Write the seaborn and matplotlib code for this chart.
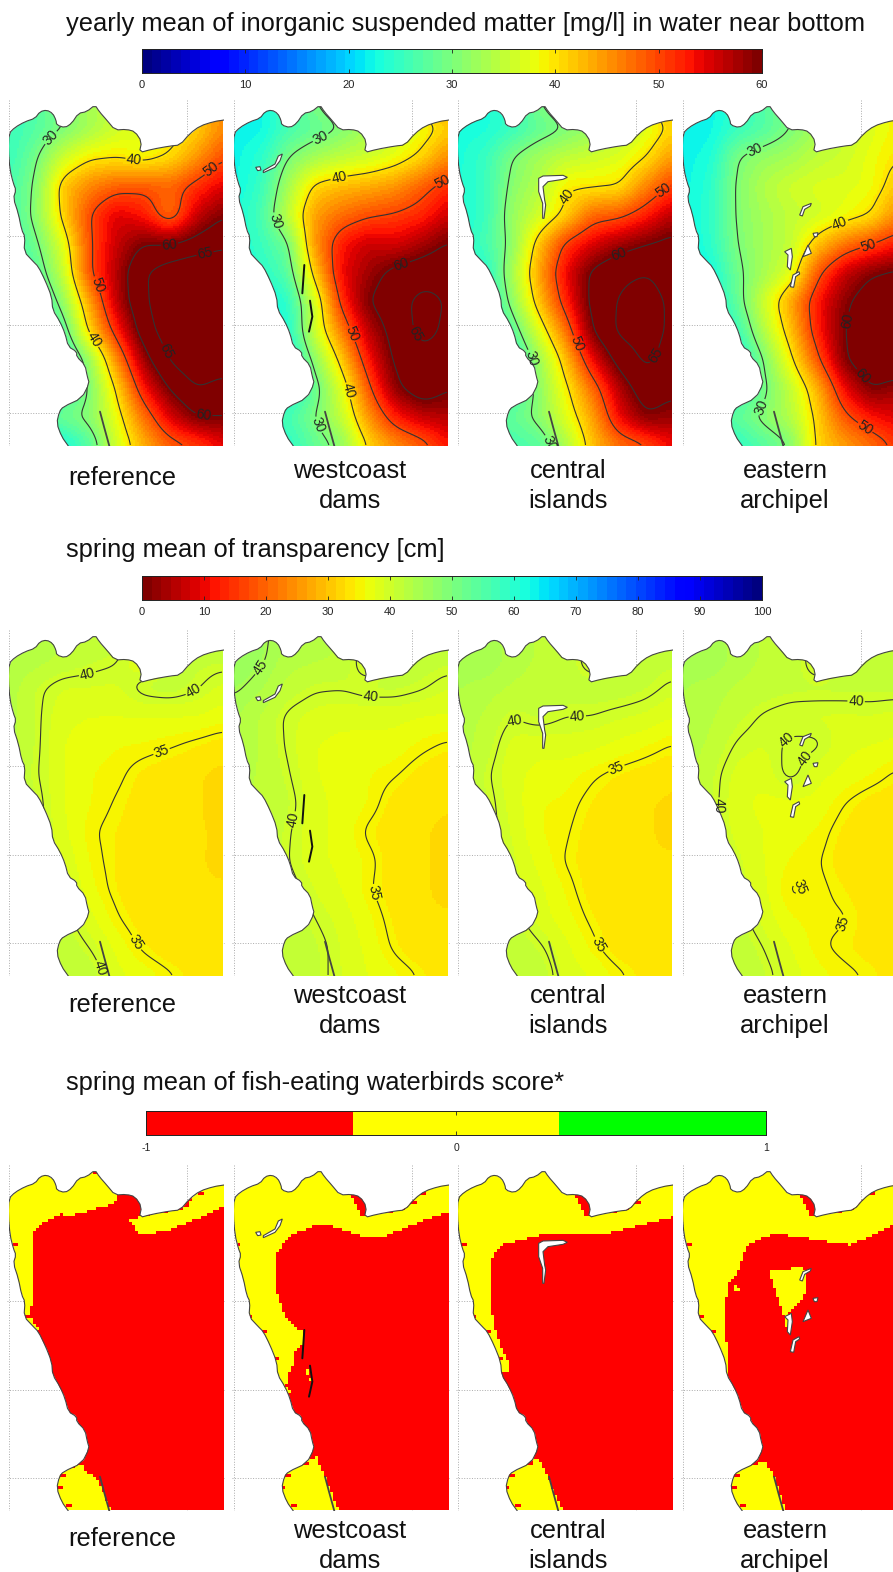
import numpy as np
import matplotlib
matplotlib.use("Agg")
import matplotlib.pyplot as plt
from matplotlib.colors import ListedColormap
from matplotlib.patches import Polygon
from matplotlib.path import Path
import seaborn as sns

sns.set_theme(style="white")
plt.rcParams['font.family'] = ['Liberation Sans', 'DejaVu Sans']

W, H = 893, 1572
titles = ["yearly mean of inorganic suspended matter [mg/l] in water near bottom",
          "spring mean of transparency [cm]",
          "spring mean of fish-eating waterbirds score*"]
scenarios = ["reference", "westcoast\ndams", "central\nislands", "eastern\narchipel"]
ism_ticks = [0, 10, 20, 30, 40, 50, 60]
trans_ticks = [0, 10, 20, 30, 40, 50, 60, 70, 80, 90, 100]
score_ticks = [-1, 0, 1]
ism_levels = [30, 40, 50, 60, 65]
trans_levels = [35, 40, 45]

# coastline, west side going north then east
coast_x = [205,185,170,178,190,245,268,262,255,230,230,205,195,180,158,155,135,115,100,72,75,65,55,40,48,40,30,25,27,45,75,105,120,140,158,168,170,195,215,235,260,285,298,320,345,380,405,425,418,455,510,540,570,600,640,672]
coast_y = [1068,1040,1000,965,950,925,880,860,825,800,785,770,730,695,660,620,570,530,515,485,440,420,370,325,300,280,240,180,130,112,95,85,65,60,70,90,105,113,100,70,65,45,65,90,120,118,125,155,188,178,168,165,130,108,95,90]

# field nodes: 9 columns x 13 rows
ism_reference = [
 [26,27,30,33,36,38,40,44,46],
 [25,27,30,33,36,37,38,41,46],
 [25,29.5,36,39.5,39.8,38.5,40.5,45,50],
 [26,30.5,42,46,48.5,49,48,51.5,55],
 [26,31,41,50,55,53,47,56,60],
 [25,29,37,49.5,56,60,60,62,64],
 [25,27,35,49.5,57,64.5,68,70,70],
 [25,24,31.5,44,56.5,64,69,71,71],
 [25,22,27,41,52,62.5,68,71,71],
 [24,22,23,32,45.5,58,65.5,69,68],
 [24,23,25,30,40.5,53,60.5,65,63],
 [27,27,29,31,38,47,55,60,60],
 [22,22,22,27,36,43,48,50,54]]
ism_westcoast = [
 [22,22,26,30,33,35,38,42,45],
 [22,22,26,28,30,33,35,38,41.5],
 [22,24,30,33,35,36,38,41,46],
 [22,25,33,41,42.5,43.5,45,48.5,52],
 [23,26,35,44.5,47.5,49.5,50.5,52,56],
 [23,25,29,45,53,56,55,57.5,60.5],
 [23,24,27,41.5,54,58,61.5,63,64],
 [22,22,24,36,51.5,60,63,66.5,64.5],
 [22,22,23,36,46.5,56.5,62,66.5,64],
 [22,22,22,31,41.5,53,61,63.5,63],
 [22,22,22,28,37,49,59,63,60],
 [24,24,26,30,35,45,52.5,56,57],
 [24,24,24,28,31,40.5,45,48,53]]
ism_central = [
 [23,23,25,30,33,36,38,40,44],
 [23,23,25,28,30,32,34,37,41],
 [23,25,30,33,35,36,37,40,45],
 [23,25,31,34,39.5,39.5,40,46,51],
 [23,25,32,36,41,48,49,52.5,57],
 [23,26,31,42,51,55,58,60,61.5],
 [23,23,33,44,54,61,64,65,63],
 [23,23,31,42,52,61.5,65.5,67,64],
 [23,23,27,37,47,60,66,67,64],
 [23,23,23,32,42,54,62,66,63],
 [24,24,25,31,39,47.5,57,63,61],
 [26,26,28,31,37,44,54,59.5,58],
 [26,26,26,27,33,42,47,49,54]]
ism_eastern = [
 [22,22,24,27,30,33,36,38,40],
 [22,22,25,27,30,33,35,37,39],
 [22,23,30,32,33,35,36,38,40],
 [22,24,30.5,34,36,37,37,38,42],
 [22,24,30.5,33,35,36,38,40,46],
 [22,24,30,33,35,42,47,50,53],
 [22,22,29,33,37,49,56,59.5,61],
 [22,22,28,36,44,53,59,63,64],
 [22,22,25,34,42,52.5,60,64,65],
 [22,22,22,30,39,49,59.5,64,64],
 [22,22,24,29,35,43,54,60,58],
 [26,26,28,31,34,41,49,53,55],
 [24,24,24,27,30,41,44,47,51]]
trans_reference = [
 [44,43,42,42,42,41,41,41,41],
 [44,43,42,41,40.3,37,41,41,41],
 [43,40.5,39,39,38.8,41,41.5,40.3,38.5],
 [43,40.5,38,37.5,37.5,37.5,37.5,37.5,36.5],
 [43,40.5,37.5,36.5,36,35.8,35.2,34.3,33.5],
 [42,40.3,37.5,36,35.5,34,33.3,33,32.3],
 [42,41,37.5,36,34.8,33.6,33.3,33,32],
 [41,41,38,35.3,34.3,33.6,33.3,33,32.5],
 [41,41,39,35.8,34.2,33,32.9,32.9,32.6],
 [41,41,40,36.5,34.3,33,32.9,32.9,32.9],
 [41,41,41,38,35.2,33.4,32.9,32.9,32.9],
 [42,42,42,40,37,34.5,33,32.9,32.9],
 [42,42,42,42,38,37,35.4,33.8,33]]
trans_westcoast = [
 [47,46,43,43,42,42,42,42,41],
 [47,45.5,43,42.5,42,38,41.5,41.5,41],
 [45.5,44,41.5,40.3,40.2,41,41,40.3,39],
 [44,42,39.5,38.5,38,38,38,37.5,37.3],
 [44,42,39.7,37.5,37,37,36.8,35.5,34.5],
 [43,42,40.3,37.5,37,36,35.2,33.7,33],
 [42,42,41,38,37,36,33.6,33,32.9],
 [42,42,40.3,38,37,34.5,33.3,32.9,32.6],
 [42,42,40.1,38,37,35.7,33.3,32.9,32.6],
 [42,42,41,39,37.5,35.3,33.3,32.9,32.6],
 [42,42,42,40,38.5,36.3,34,32.9,32.9],
 [42,42,42,41,39,37,34.5,33,32.9],
 [42,42,42,41,39,37.5,36.3,34.8,33]]
trans_central = [
 [44,44,43,42,42,42,42,42,41],
 [44,45.5,43,42,42,38,41.5,41.5,41],
 [44,43,42,41.5,41.5,41.5,41.5,40.8,39.5],
 [43,42,40,41,40,40,39.3,38.8,37.5],
 [43,41.5,38.5,38,38.5,38,37,36,34.8],
 [43,40.5,38,37,36.5,35.3,34.3,33.6,33],
 [41,41,38.5,36,35.7,34.3,33,32.9,32.6],
 [41,41,39,36,35.3,33.6,32.9,32.9,32.6],
 [41,41,39.5,37,34.8,33.6,33,32.9,32.9],
 [41,41,40,38,35.8,33.6,32.9,32.9,32.9],
 [41,41,41,38.5,36.5,34.5,33,32.9,32.9],
 [42,42,42,40.5,38,35.5,33.4,32.9,32.9],
 [42,42,42,42,38.5,37.5,35.5,34,33]]
trans_eastern = [
 [44,44,43,42,42,42,42,42,41],
 [44,45.5,43,42,42,38,41.5,41.5,41],
 [44,43,42,41.5,41,41,41,41,41],
 [43,42.5,41,39.7,39,38.8,38.8,39,38.5],
 [43,42,39.7,39,40.5,40.5,38,37.5,37],
 [43,41,38.5,38,41,38,37,36,34.5],
 [41,41,38,37,37,37,35,33.7,33.3],
 [41,41,38.5,37.5,36.5,35.8,34,33,32.9],
 [41,41,39.5,37.5,35.8,35.2,33.6,33,32.9],
 [41,41,40,38,34.5,35.5,34.4,33.3,33],
 [41,41,41,38.5,36,35.4,35.2,33.7,33.3],
 [42,42,42,40,37.5,35.3,34.5,33.7,33.4],
 [42,42,42,41,38.5,36.5,35.5,34.8,33.4]]

# score: regions
yellow_reference = [[(10,10),(290,10),(350,115),(345,145),(220,180),(180,178),(125,205),(100,235),(100,300),(95,350),(100,400),(100,440),(85,470),(100,500),(120,525),(10,525)],
                    [(390,195),(415,235),(445,235),(500,228),(595,190),(672,155),(700,155),(700,70),(600,100),(550,160),(420,185)],
                    [(160,950),(245,930),(260,950),(290,965),(335,1075),(160,1075)]]
yellow_westcoast = [[(10,10),(300,10),(360,110),(375,120),(410,180),(540,165),(600,100),(700,70),(700,172),(672,172),(600,195),(490,240),(440,250),(400,240),(330,215),(270,212),(200,240),(160,285),(150,320),(158,420),(180,480),(215,520),(235,525),(232,570),(205,590),(205,630),(185,665),(195,710),(10,710)],
                    [(160,950),(275,905),(345,1075),(160,1075)],
                    [(238,650),(250,642),(260,682)]]
yellow_central = [[(10,10),(300,10),(360,110),(375,120),(410,180),(540,165),(600,100),(700,70),(700,186),(669,186),(453,240),(423,240),(273,240),(153,270),(126,315),(123,405),(132,495),(153,570),(183,630),(183,650),(10,650)],
                  [(160,950),(270,910),(345,1075),(160,1075)]]
yellow_eastern = [[(10,10),(300,10),(360,110),(375,120),(410,180),(540,165),(600,100),(700,70),(700,212),(657,212),(530,270),(490,265),(400,250),(300,235),(225,265),(205,300),(200,340),(165,385),(150,460),(155,540),(165,625),(165,670),(10,670)],
                  [(160,950),(275,920),(300,965),(340,1075),(160,1075)],
                  [(285,350),(390,335),(400,410),(375,440),(345,470),(340,520)],
                  [(180,380),(195,400),(190,420),(180,405)]]
red_chunk_other = [(375,115),(405,112),(425,155),(412,178)]
red_cells_reference = [(280,50),(565,135),(595,115),(550,155),(40,270),(75,480),(180,960),(172,995),(205,1050)]
red_cells_westcoast = [(35,270),(70,480),(108,525),(150,610),(180,690),(230,800),(260,860),(240,925),(180,960),(170,998),(205,1055),(565,138),(585,118)]
red_cells_central = [(40,270),(70,480),(108,525),(150,610),(230,800),(260,860),(240,925),(180,960),(170,998),(205,1055),(565,138)]
red_cells_eastern = [(40,270),(75,480),(110,525),(230,800),(260,860),(240,925),(180,960),(172,995),(205,1050),(585,115)]

island_sets = {
 1: [[(115,248),(150,232),(165,212),(172,192),(160,198),(150,222),(115,242)],
     [(92,232),(105,230),(108,240),(98,242)]],
 2: [[(269,265),(282,258),(342,256),(355,262),(342,268),(297,275),(282,290),(287,330),(290,345),(285,385),(281,385),(281,340),(269,305)]],
 3: [[(377,375),(387,350),(412,340),(409,348),(392,358),(385,378)],
     [(332,485),(352,475),(355,500),(349,540),(340,530),(342,495)],
     [(349,590),(357,555),(375,545),(377,552),(365,560),(359,592)],
     [(387,500),(402,465),(412,490)],
     [(417,430),(432,428),(429,440),(421,440)]],
}
dam_lines = {1: [[(238,525),(232,610)], [(255,632),(262,680),(252,725)]]}
bay_dam = [(300,965),(312,1010),(328,1068)]

label_spots = [
 [[(160,150),(400,228),(632,235),(508,460),(618,505),(275,590),(272,755),(492,788),(610,985)],
  [(300,170),(145,395),(225,1030),(342,263),(362,905),(652,272),(355,742),(527,515),(600,715)],
  [(242,805),(332,1050),(349,317),(359,770),(649,310),(512,497),(625,800)],
  [(239,172),(264,952),(502,412),(580,458),(562,1030),(504,688),(534,885)]],
 [[(265,173),(578,207),(312,1040),(490,410),(392,978)],
  [(110,145),(435,255),(217,602),(430,822)],
  [(197,295),(385,292),(499,437),(412,993)],
  [(545,272),(325,345),(392,415),(147,558),(379,800),(527,915)]],
]

CELL = 6
X0, X1, Y0, Y1 = 27, 672, 30, 1068
nodes_x = np.linspace(X0, X1, 9)
nodes_y = np.linspace(Y0, Y1, 13)
panel_left = [9, 234, 458, 683]
panel_top = [100, 630, 1165]
PW, PH = 215, 346

def box(a, n):
    pad = n // 2
    k = np.ones(n) / n
    return np.array([np.convolve(np.pad(r, pad, mode='edge'), k, mode='valid') for r in a])

def field(grid):
    fx = np.arange(X0 + CELL / 2, X1, CELL)
    fy = np.arange(Y0 + CELL / 2, Y1, CELL)
    a = np.array([np.interp(fx, nodes_x, r) for r in grid])
    b = np.array([np.interp(fy, nodes_y, c) for c in a.T]).T
    for _ in range(2):
        b = box(b.T, 7).T
        b = box(b, 7)
    return b

def rounded(p, n=1):
    # corner cutting so the coast line is drawn without sharp kinks
    p = np.asarray(p, float)
    for _ in range(n):
        q = 0.75 * p[:-1] + 0.25 * p[1:]
        r = 0.25 * p[:-1] + 0.75 * p[1:]
        m = np.empty((2 * len(q), 2))
        m[0::2], m[1::2] = q, r
        p = np.vstack([p[0], m, p[-1]])
    return p

def new_ax(fig, col, row):
    l, t = panel_left[col], panel_top[row]
    return fig.add_axes([l / W, 1 - (t + PH) / H, PW / W, PH / H])

def finish(ax, cell, col):
    cv = lambda p: [((x - X0) / cell, (y - Y0) / cell) for x, y in p]
    shore = rounded(list(zip(coast_x, coast_y)))
    poly = [tuple(q) for q in shore] + [(X1, Y1)]
    clip = Polygon(cv(poly), closed=True, transform=ax.transData, fc='none', ec='none')
    ax.add_patch(clip)
    ax.collections[0].set_clip_path(clip)
    c = np.array(cv(shore))
    ax.plot(c[:, 0], c[:, 1], color='#444444', lw=0.8, zorder=4)
    d = np.array(cv(bay_dam))
    ax.plot(d[:, 0], d[:, 1], color='#444444', lw=1.3, zorder=4)
    for isl in island_sets.get(col, []):
        ax.add_patch(Polygon(cv(isl), closed=True, fc='white', ec='#444444', lw=0.8, zorder=5))
    for ln in dam_lines.get(col, []):
        e = np.array(cv(ln))
        ax.plot(e[:, 0], e[:, 1], color='#111111', lw=1.4, zorder=5)
    # dotted map grid, behind the field
    gc = '#aaaaaa'
    for gx in [X0, 560]:
        ax.plot([(gx - X0) / cell] * 2, [0, (Y1 - Y0) / cell], ls=':', lw=0.7, color=gc, zorder=0.5)
    for gy in [438, 705, 970]:
        ax.plot([-7 / cell, (X1 - X0) / cell], [(gy - Y0) / cell] * 2, ls=':', lw=0.7, color=gc, zorder=0.5, clip_on=False)
    ax.set_xlim(0, (X1 - X0) / cell)
    ax.set_ylim((Y1 - Y0) / cell, 0)
    ax.axis('off')
    return clip

def colorbar(fig, left, top, width, height, cmap, vmin, vmax, ticks, n, fs, pad):
    ax = fig.add_axes([left / W, 1 - (top + height) / H, width / W, height / H])
    vals = np.linspace(vmin, vmax, n)[None, :]
    sns.heatmap(vals, cmap=cmap, vmin=vmin, vmax=vmax, cbar=False, ax=ax,
                xticklabels=False, yticklabels=False)
    ax.set_yticks([])
    ax.set_xticks([(t - vmin) / (vmax - vmin) * n for t in ticks])
    ax.set_xticklabels([str(t) for t in ticks], fontsize=fs, rotation=0)
    ax.set_axisbelow(False)
    ax.tick_params(axis='x', direction='in', top=True, bottom=True, length=3, width=0.6,
                   color='#222222', pad=pad, labelcolor='#222222')
    for s in ax.spines.values():
        s.set_visible(True)
        s.set_color('#222222')
        s.set_linewidth(0.7)

fig = plt.figure(figsize=(W / 100, H / 100), dpi=100, facecolor='white')

title_y = [24, 550, 1083]
for t, y in zip(titles, title_y):
    fig.text(66 / W, 1 - y / H, t, fontsize=18.4, ha='left', va='center', color='#111111')

label_y = [(478, 486), (1005, 1011), (1539, 1546)]
label_x = [122, 350, 568, 785]
for (y1, y2) in label_y:
    for i, (s, x) in enumerate(zip(scenarios, label_x)):
        fig.text(x / W, 1 - (y1 if i == 0 else y2) / H, s, fontsize=18.4, ha='center', va='center',
                 color='#111111', linespacing=1.3)

jet = plt.get_cmap('jet', 64)
jet_r = plt.get_cmap('jet_r', 64)
score_cmap = ListedColormap(['#ff0000', '#ffff00', '#00ff00'])

colorbar(fig, 142, 49, 620, 24, jet, 0, 60, ism_ticks, 64, 8, 5)
colorbar(fig, 142, 576, 620, 24, jet_r, 0, 100, trans_ticks, 64, 8, 5)
colorbar(fig, 146, 1111, 620, 24, score_cmap, -1, 1, score_ticks, 3, 7.5, 6)

# continuous rows
rows = [([ism_reference, ism_westcoast, ism_central, ism_eastern], jet, 0, 60, ism_levels),
        ([trans_reference, trans_westcoast, trans_central, trans_eastern], jet_r, 0, 100, trans_levels)]
for r, (grids, cmap, vmin, vmax, levels) in enumerate(rows):
    for c, g in enumerate(grids):
        ax = new_ax(fig, c, r)
        F = field(g)
        sns.heatmap(F, cmap=cmap, vmin=vmin, vmax=vmax, cbar=False, ax=ax,
                    xticklabels=False, yticklabels=False)
        xc = np.arange(F.shape[1]) + 0.5
        yc = np.arange(F.shape[0]) + 0.5
        cs = ax.contour(xc, yc, F, levels=levels, colors='#333333', linewidths=0.8, zorder=3)
        spots = [((x - X0) / CELL, (y - Y0) / CELL) for x, y in label_spots[r][c]]
        ax.clabel(cs, manual=spots, fmt='%d', fontsize=10, inline=True, inline_spacing=1, colors='#222222')
        clip = finish(ax, CELL, c)
        cs.set_clip_path(clip)

# score row
SC = 9
sx = np.arange(X0 + SC / 2, X1, SC)
sy = np.arange(Y0 + SC / 2, Y1, SC)
gx, gy = np.meshgrid(sx, sy)
pts = np.column_stack([gx.ravel(), gy.ravel()])
score_sets = [(yellow_reference, red_cells_reference),
              (yellow_westcoast, red_cells_westcoast),
              (yellow_central, red_cells_central),
              (yellow_eastern, red_cells_eastern)]
for c, (regions, reds) in enumerate(score_sets):
    S = -np.ones(gx.shape)
    for reg in regions:
        S[Path(reg).contains_points(pts).reshape(gx.shape)] = 0
    if c > 0:
        S[Path(red_chunk_other).contains_points(pts).reshape(gx.shape)] = -1
    for x, y in reds:
        i, j = int((y - Y0) // SC), min(int((x - X0) // SC), S.shape[1] - 1)
        S[i:i + 1, j:j + 2] = -1
    ax = new_ax(fig, c, 2)
    sns.heatmap(S, cmap=score_cmap, vmin=-1, vmax=1, cbar=False, ax=ax,
                xticklabels=False, yticklabels=False)
    finish(ax, SC, c)

fig.savefig('out.png', dpi=100, facecolor='white')
